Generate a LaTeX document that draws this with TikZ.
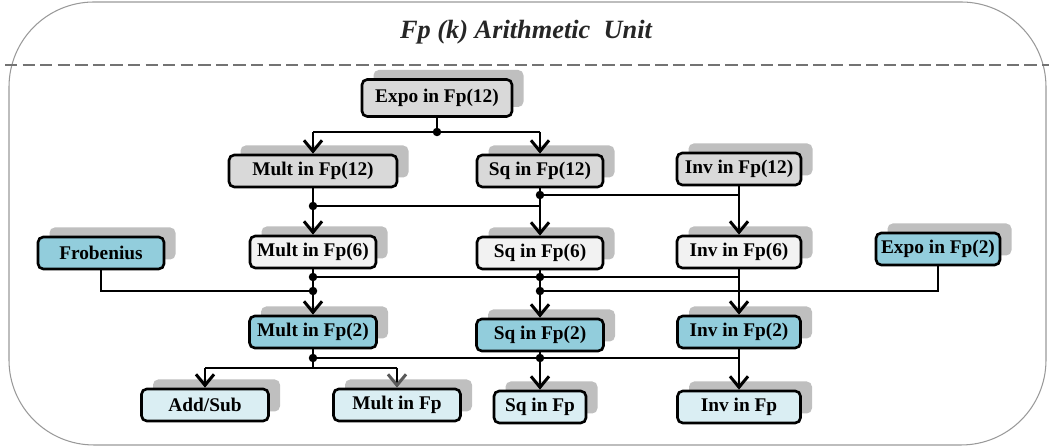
\documentclass[tikz,border=0pt]{standalone}
\usepackage{fontspec}
\setmainfont{Liberation Serif}
\usetikzlibrary{arrows.meta,shadows}
\definecolor{boxgray}{HTML}{D9D9D9}
\definecolor{boxlight}{HTML}{F2F2F2}
\definecolor{boxteal}{HTML}{92CDDC}
\definecolor{boxpale}{HTML}{DAEEF3}
\newcommand{\dotr}{0.085}

\tikzset{
	box/.style={draw,
		line width=1.5pt,
		rounded corners=3pt,
		minimum height=0.64cm,
		inner sep=0pt,
		font=\bfseries\fontsize{11}{13}\selectfont,
		drop shadow={shadow xshift=0.23cm,shadow yshift=0.19cm,fill=black!25,opacity=1}},
	graybox/.style={box,fill=boxgray},
	lightbox/.style={box,fill=boxlight},
	tealbox/.style={box,fill=boxteal},
	palebox/.style={box,fill=boxpale},
	bus/.style={line width=1.1pt},
	feed/.style={line width=1.7pt},
	arr/.style={-{Straight Barb[length=2.2mm,width=3.6mm]}}
}

\begin{document}
\begin{tikzpicture}
		\useasboundingbox (0,0) rectangle (21.06,8.96);
		% frame and title
		\draw[black!40, line width=0.6pt, rounded corners=1.7cm] (0.18,0.06) rectangle (20.92,8.92);
		\draw[black!55, line width=1.2pt, dash pattern=on 7pt off 3pt] (0.1,7.66) -- (20.98,7.66);
		\node[font=\bfseries\itshape\fontsize{15}{17}\selectfont, black!85] (title) at (10.52,8.32) {Fp (k) Arithmetic~ Unit};

		% Fp(12) row
		\node[graybox, minimum width=3.0cm, minimum height=0.74cm] (expo12) at (8.74,7.00) {Expo in Fp(12)};
		\node[graybox, minimum width=3.36cm] (mult12) at (6.26,5.54) {Mult in Fp(12)};
		\node[graybox, minimum width=2.52cm] (sq12) at (10.80,5.54) {Sq in Fp(12)};
		\node[graybox, minimum width=2.48cm] (inv12) at (14.78,5.58) {Inv in Fp(12)};

		% Fp(6) row
		\node[tealbox, minimum width=2.52cm] (frob) at (2.02,3.90) {Frobenius};
		\node[lightbox, minimum width=2.52cm] (mult6) at (6.26,3.92) {Mult in Fp(6)};
		\node[lightbox, minimum width=2.52cm] (sq6) at (10.80,3.90) {Sq in Fp(6)};
		\node[lightbox, minimum width=2.48cm] (inv6) at (14.78,3.92) {Inv in Fp(6)};
		\node[tealbox, minimum width=2.48cm] (expo2) at (18.76,3.98) {Expo in Fp(2)};

		% Fp(2) row
		\node[tealbox, minimum width=2.54cm] (mult2) at (6.26,2.32) {Mult in Fp(2)};
		\node[tealbox, minimum width=2.54cm] (sq2) at (10.80,2.26) {Sq in Fp(2)};
		\node[tealbox, minimum width=2.46cm] (inv2) at (14.78,2.32) {Inv in Fp(2)};

		% Fp row
		\node[palebox, minimum width=2.54cm] (addsub) at (4.10,0.86) {Add/Sub};
		\node[palebox, minimum width=2.54cm] (multfp) at (7.94,0.86) {Mult in Fp};
		\node[palebox, minimum width=1.84cm] (sqfp) at (10.80,0.82) {Sq in Fp};
		\node[palebox, minimum width=2.46cm] (invfp) at (14.78,0.82) {Inv in Fp};

		% junctions
		\coordinate (jexpo) at (8.74,6.32);
		\coordinate (jm12) at (6.26,4.84);
		\coordinate (js12) at (10.80,5.06);
		\coordinate (jm6) at (6.26,3.42);
		\coordinate (js6) at (10.80,3.42);
		\coordinate (jfrob) at (6.26,3.14);
		\coordinate (jexp2) at (10.80,3.14);
		\coordinate (jm2) at (6.26,1.80);
		\coordinate (js2) at (10.80,1.80);
		\coordinate (jsplit) at (6.26,1.60);

		% Expo(12) fan out
		\draw[feed] (expo12) -- (jexpo);
		\draw[bus] (jexpo -| mult12) -- (jexpo -| sq12);
		\draw[feed,arr] (jexpo -| mult12) -- (mult12);
		\draw[feed,arr] (jexpo -| sq12) -- (sq12);
		\fill (jexpo) circle (\dotr);

		% Fp(12) to Fp(6)
		\draw[feed,arr] (mult12) -- (mult6);
		\draw[feed,arr] (sq12) -- (sq6);
		\draw[feed,arr] (inv12) -- (inv6);
		\draw[bus] (jm12) -- (jm12 -| sq12);
		\draw[bus] (js12) -- (js12 -| inv12);
		\fill (jm12) circle (\dotr);
		\fill (js12) circle (\dotr);

		% Fp(6) to Fp(2)
		\draw[feed,arr] (mult6) -- (mult2);
		\draw[feed,arr] (sq6) -- (sq2);
		\draw[feed,arr] (inv6) -- (inv2);
		\draw[bus] (jm6) -- (jm6 -| inv6);
		\draw[bus] (frob) |- (jfrob);
		\draw[bus] (expo2) |- (jexp2);
		\foreach \j in {jm6,js6,jfrob,jexp2}
			\fill (\j) circle (\dotr);

		% Fp(2) to Fp
		\draw[feed] (mult2) -- (jm2);
		\draw[bus] (jm2) -- (jsplit);
		\draw[bus] (jm2) -- (jm2 -| inv2);
		\draw[bus] (jsplit -| addsub) -- (jsplit -| multfp);
		\draw[feed,arr] (jsplit -| addsub) -- (addsub);
		\draw[feed,-{Straight Barb[length=2.2mm,width=3.6mm,color=black!65]}] (jsplit -| multfp) -- (multfp);
		\draw[feed,arr] (sq2) -- (sqfp);
		\draw[feed,arr] (inv2) -- (invfp);
		\fill (jm2) circle (\dotr);
		\fill (js2) circle (\dotr);
\end{tikzpicture}
\end{document}
